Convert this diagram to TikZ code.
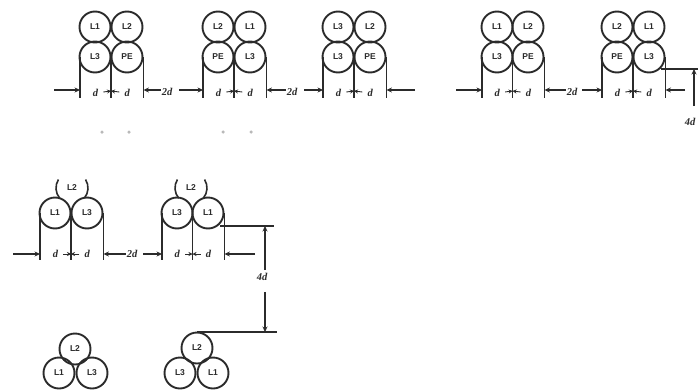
\documentclass[tikz,border=0pt]{standalone}
\usepackage{fontspec}
\setmainfont{Liberation Sans}
\newfontfamily\dimfont{Liberation Serif}
\usetikzlibrary{arrows.meta,calc}
\definecolor{ink}{gray}{0.17}
\tikzset{
  cond/.style={circle,draw=ink,line width=1.9pt,minimum size=31pt,inner sep=0pt,text=ink,font=\bfseries\fontsize{8.5}{8.5}\selectfont},
  condlabel/.style={text=ink,font=\bfseries\fontsize{8.5}{8.5}\selectfont,inner sep=0pt},
  dimtext/.style={text=ink,font=\dimfont\bfseries\itshape\fontsize{10.5}{10.5}\selectfont,inner sep=1pt},
  extline/.style={draw=ink,line width=1.3pt},
  dimarrow/.style={draw=ink,line width=1.2pt,-{Stealth[length=5.5pt,width=5pt]}},
  midarrow/.style={draw=ink,line width=0.9pt,-{Stealth[length=4pt,width=4pt]},shorten <=4pt},
  leader/.style={draw=ink,line width=1.6pt},
  speck/.style={circle,fill=gray!55,inner sep=0pt,minimum size=3.5pt}
}
% id, left x, right x, four labels
\newcommand{\quadgroup}[7]{
  \node[cond] (#1a) at (#2,27) {#4};
  \node[cond] (#1b) at (#3,27) {#5};
  \node[cond] (#1c) at (#2,57) {#6};
  \node[cond] (#1e) at (#3,57) {#7};
  \coordinate (#1lt) at ([xshift=1.5pt]#1c.west);
  \coordinate (#1lb) at (#1lt |- 0,98);
  \coordinate (#1rb) at (#1e.east |- 0,98);
  \path (#1c.east) -- (#1e.west) coordinate[midway] (#1mid);
  \coordinate (#1mb) at (#1mid |- 0,98);
  \draw[extline] (#1lt) -- (#1lb);
  \draw[extline] (#1e.east) -- (#1rb);
  \draw[extline] (#1mid) -- (#1mb);
  \coordinate (#1ld) at (#1lt |- 0,90);
  \coordinate (#1rd) at (#1e.east |- 0,90);
  \coordinate (#1md) at (#1mid |- 0,91);
  \node[dimtext] (#1dl) at ($(#1ld)!0.5!(#1md)+(0,2)$) {d};
  \node[dimtext] (#1dr) at ($(#1rd)!0.5!(#1md)+(0,2)$) {d};
}
\newcommand{\trigroup}[7]{
  \node[cond] (#1l) at (#2,213) {#5};
  \node[cond] (#1r) at (#3,213) {#6};
  \node[condlabel] (#1t) at (#4,188) {#7};
  \draw[leader] (#4,188) ++(140:16) arc (140:212:16);
  \draw[leader] (#4,188) ++(40:16) arc (40:-32:16);
  \coordinate (#1lt) at ([xshift=1.5pt]#1l.west);
  \coordinate (#1lb) at (#1lt |- 0,260);
  \coordinate (#1rb) at (#1r.east |- 0,260);
  \path (#1l.east) -- (#1r.west) coordinate[midway] (#1mid);
  \coordinate (#1mb) at (#1mid |- 0,260);
  \draw[extline] (#1lt) -- (#1lb);
  \draw[extline] (#1r.east) -- (#1rb);
  \draw[extline] (#1mid) -- (#1mb);
  \coordinate (#1ld) at (#1lt |- 0,254);
  \coordinate (#1rd) at (#1r.east |- 0,254);
  \coordinate (#1md) at (#1mid |- 0,254);
  \node[dimtext] (#1dl) at ($(#1ld)!0.5!(#1md)$) {d};
  \node[dimtext] (#1dr) at ($(#1rd)!0.5!(#1md)$) {d};
}
\begin{document}
\begin{tikzpicture}[x=1pt,y=-1pt]
\useasboundingbox (0,0) rectangle (698,391);
\quadgroup{p}{95}{127}{L1}{L2}{L3}{PE}
\quadgroup{q}{218}{250}{L2}{L1}{PE}{L3}
\quadgroup{r}{338}{370}{L3}{L2}{L3}{PE}
\quadgroup{s}{497}{528}{L1}{L2}{L3}{PE}
\quadgroup{t}{617}{649}{L2}{L1}{PE}{L3}
\foreach \g in {p,q,r,s,t}{
  \draw[midarrow] (\g dl.east) -- (\g md);
  \draw[midarrow] (\g dr.west) -- (\g md);
}
\coordinate (pin) at (54,90);
\coordinate (sin) at (456,90);
\coordinate (rout) at (415,90);
\coordinate (tout) at (685,90);
\node[dimtext] (gap1) at (167,92) {2d};
\node[dimtext] (gap2) at (292,92) {2d};
\node[dimtext] (gap3) at (572,92) {2d};
\draw[dimarrow] (pin) -- (pld);
\draw[dimarrow] (gap1.west |- prd) -- (prd);
\draw[dimarrow] (gap1.east |- qld) ++(6,0) -- (qld);
\draw[dimarrow] (gap2.west |- qrd) -- (qrd);
\draw[dimarrow] (gap2.east |- rld) ++(6,0) -- (rld);
\draw[dimarrow] (rout) -- (rrd);
\draw[dimarrow] (sin) -- (sld);
\draw[dimarrow] (gap3.west |- srd) -- (srd);
\draw[dimarrow] (gap3.east |- tld) ++(4,0) -- (tld);
\draw[dimarrow] (tout) -- (trd);
% four d, top right
\coordinate (topend) at (698,69);
\draw[leader] (te.south east |- topend) -- (topend);
\coordinate (topdim) at (694,69);
\coordinate (topstem) at (694,106);
\node[dimtext] (fourA) at (690,122) {4d};
\draw[dimarrow] (topstem) -- (topdim);
% specks
\node[speck] (s1) at (102,132) {};
\node[speck] (s2) at (129,132) {};
\node[speck] (s3) at (223,132) {};
\node[speck] (s4) at (251,132) {};
% middle row
\trigroup{u}{55}{87}{72}{L1}{L3}{L2}
\trigroup{v}{177}{208}{191}{L3}{L1}{L2}
\foreach \g in {u,v}{
  \draw[midarrow] (\g dl.east) -- (\g md);
  \draw[midarrow] (\g dr.west) -- (\g md);
}
\coordinate (uin) at (13,254);
\coordinate (vout) at (255,254);
\node[dimtext] (gap4) at (132,254) {2d};
\draw[dimarrow] (uin) -- (uld);
\draw[dimarrow] (gap4.west) -- (urd);
\draw[dimarrow] (gap4.east |- vld) ++(5,0) -- (vld);
\draw[dimarrow] (vout) -- (vrd);
% bottom row
\node[cond] (wt) at (75,349) {L2};
\node[cond] (wl) at (59,373) {L1};
\node[cond] (wr) at (92,373) {L3};
\node[cond] (xt) at (197,348) {L2};
\node[cond] (xl) at (180,373) {L3};
\node[cond] (xr) at (213,373) {L1};
% four d, lower
\coordinate (uppEnd) at (274,226);
\coordinate (lowEnd) at (277,332);
\coordinate (uppDim) at (265,226);
\coordinate (lowDim) at (265,332);
\draw[leader] (vr.south east |- uppEnd) -- (uppEnd);
\draw[leader] (xt.north |- lowEnd) -- (lowEnd);
\node[dimtext] (fourB) at (262,277) {4d};
\draw[dimarrow] (fourB.north -| uppDim) ++(0,-2) -- (uppDim);
\draw[dimarrow] (fourB.south -| lowDim) ++(0,10) -- (lowDim);
\end{tikzpicture}
\end{document}
